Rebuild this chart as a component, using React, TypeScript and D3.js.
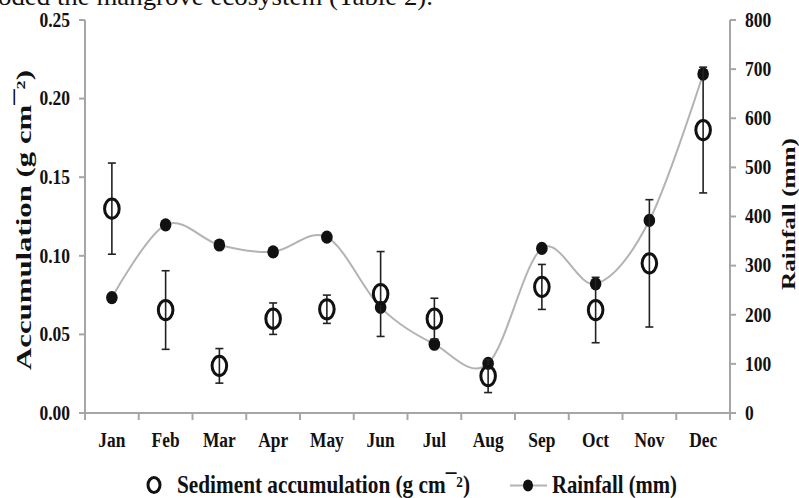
import React from "react";
import * as d3 from "d3";

const months = ["Jan", "Feb", "Mar", "Apr", "May", "Jun", "Jul", "Aug", "Sep", "Oct", "Nov", "Dec"];
const sediment = [0.13, 0.0655, 0.03, 0.06, 0.066, 0.0757, 0.06, 0.0235, 0.0802, 0.0655, 0.0952, 0.18];
const sedimentErr = [0.029, 0.025, 0.011, 0.01, 0.009, 0.027, 0.013, 0.0105, 0.0143, 0.0208, 0.0405, 0.04];
const rainfall = [235, 383, 342, 328, 358, 215, 140, 101, 335, 263, 392, 690];
const leftTicks = [0, 0.05, 0.1, 0.15, 0.2, 0.25];
const rightTicks = [0, 100, 200, 300, 400, 500, 600, 700, 800];

const W = 799;
const H = 498;
const L = 85;
const R = 730;
const T = 20;
const B = 413;
const SY = 1.2;
const FONT = "'Liberation Serif', 'Times New Roman', serif";
const AXIS = "#a6a6a6";
const INK = "#111";

export default function App() {
  const x = d3.scaleBand<string>().domain(months).range([L, R]).padding(0);
  const yL = d3.scaleLinear().domain([0, 0.25]).range([B, T]);
  const yR = d3.scaleLinear().domain([0, 800]).range([B, T]);
  const cx = (m: string) => (x(m) as number) + x.bandwidth() / 2;

  const rainPts: [number, number][] = months.map((m, i) => [cx(m), yR(rainfall[i])]);
  const linePath = d3.line().curve(d3.curveCardinal.tension(0))(rainPts) || "";

  const boundaries = d3.range(months.length + 1).map((i) => L + i * x.bandwidth());

  const sText = (
    key: string | number,
    tx: number,
    ty: number,
    content: React.ReactNode,
    size: number,
    anchor: string,
    weight = "bold"
  ) => (
    <text
      key={key}
      transform={`translate(${tx},${ty}) scale(1,${SY})`}
      fontFamily={FONT}
      fontSize={size}
      fontWeight={weight}
      textAnchor={anchor}
      fill={INK}
    >
      {content}
    </text>
  );

  return (
    <svg
      width={W}
      height={H}
      style={{ position: "absolute", left: 0, top: 0, background: "#fff" }}
    >
      <rect x={0} y={0} width={W} height={H} fill="#fff" />
      {/* clipped caption text from the page above */}
      <text x={-2} y={5} fontFamily={FONT} fontSize={26} fill={INK} textLength={435} lengthAdjust="spacingAndGlyphs">
        oded the mangrove ecosystem (Table 2).
      </text>

      {/* axes */}
      <line x1={L} y1={T} x2={L} y2={B + 7} stroke={AXIS} strokeWidth={2} />
      <line x1={R} y1={T} x2={R} y2={B + 7} stroke={AXIS} strokeWidth={2} />
      <line x1={L} y1={B} x2={R} y2={B} stroke={AXIS} strokeWidth={2} />
      {boundaries.map((bx, i) => (
        <line key={"xb" + i} x1={bx} y1={B} x2={bx} y2={B + 7} stroke={AXIS} strokeWidth={2} />
      ))}
      {leftTicks.map((t) => (
        <line key={"lt" + t} x1={L - 6} y1={yL(t)} x2={L} y2={yL(t)} stroke={AXIS} strokeWidth={2} />
      ))}
      {rightTicks.map((t) => (
        <line key={"rt" + t} x1={R} y1={yR(t)} x2={R + 6} y2={yR(t)} stroke={AXIS} strokeWidth={2} />
      ))}

      {/* tick labels */}
      {leftTicks.map((t) => sText("ll" + t, 70, yL(t) + 6.8, d3.format(".2f")(t), 17.5, "end"))}
      {rightTicks.map((t) => sText("rl" + t, 745, yR(t) + 6.8, String(t), 17.5, "start"))}
      {months.map((m) => sText("ml" + m, cx(m), 446.5, m, 17.4, "middle"))}

      {/* axis titles */}
      <text
        transform={`translate(31,220) rotate(-90)`}
        fontFamily={FONT}
        fontSize={22}
        fontWeight="bold"
        textAnchor="middle"
        fill={INK}
        textLength={300}
        lengthAdjust="spacingAndGlyphs"
      >
        Accumulation (g cm<tspan dy={-2}>¯</tspan>
        <tspan fontSize={13} dy={-4}>2</tspan>
        <tspan dy={6}>)</tspan>
      </text>
      <text
        transform={`translate(795,214) rotate(-90)`}
        fontFamily={FONT}
        fontSize={19.5}
        fontWeight="bold"
        textAnchor="middle"
        fill={INK}
        textLength={152}
        lengthAdjust="spacingAndGlyphs"
      >
        Rainfall (mm)
      </text>

      {/* rainfall line */}
      <path d={linePath} fill="none" stroke="#b3b3b3" strokeWidth={2} />
      {rainPts.map(([px, py], i) => (
        <ellipse key={"rd" + i} cx={px} cy={py} rx={5.8} ry={6.6} fill={INK} />
      ))}

      {/* sediment error bars and markers */}
      {months.map((m, i) => {
        const px = cx(m);
        const top = yL(sediment[i] + sedimentErr[i]);
        const bot = yL(sediment[i] - sedimentErr[i]);
        return (
          <g key={"eb" + m} stroke="#222" strokeWidth={1.6}>
            <line x1={px} y1={top} x2={px} y2={bot} />
            <line x1={px - 4} y1={top} x2={px + 4} y2={top} />
            <line x1={px - 4} y1={bot} x2={px + 4} y2={bot} />
          </g>
        );
      })}
      {months.map((m, i) => (
        <ellipse
          key={"sd" + m}
          cx={cx(m)}
          cy={yL(sediment[i])}
          rx={7.3}
          ry={9.6}
          fill="none"
          stroke={INK}
          strokeWidth={3}
        />
      ))}

      {/* legend */}
      <ellipse cx={154} cy={485} rx={6} ry={7.5} fill="none" stroke={INK} strokeWidth={3} />
      <text
        transform={`translate(177,493) scale(1,${SY})`}
        fontFamily={FONT}
        fontSize={21}
        fontWeight="bold"
        fill={INK}
        textLength={293}
        lengthAdjust="spacingAndGlyphs"
      >
        Sediment accumulation (g cm<tspan dy={-2}>¯</tspan>
        <tspan fontSize={13} dy={-3}>2</tspan>
        <tspan dy={5}>)</tspan>
      </text>
      <line x1={510} y1={485.5} x2={547} y2={485.5} stroke="#b3b3b3" strokeWidth={2} />
      <ellipse cx={528} cy={485.5} rx={5} ry={6} fill={INK} />
      <text
        transform={`translate(552,493) scale(1,${SY})`}
        fontFamily={FONT}
        fontSize={21}
        fontWeight="bold"
        fill={INK}
        textLength={125}
        lengthAdjust="spacingAndGlyphs"
      >
        Rainfall (mm)
      </text>
    </svg>
  );
}
